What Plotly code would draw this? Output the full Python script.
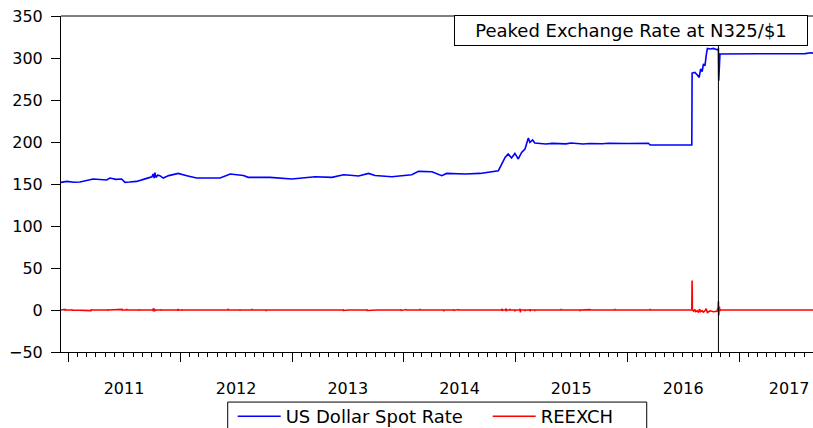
import pandas as pd
import plotly.graph_objects as go

# ---- data ----
usd_dates = [
    "2010-12-08", "2010-12-27", "2011-01-20", "2011-02-08", "2011-03-23", "2011-04-15",
    "2011-05-06", "2011-05-17", "2011-06-05", "2011-06-24", "2011-07-05", "2011-07-20",
    "2011-08-12", "2011-09-14", "2011-10-01", "2011-10-05", "2011-10-08", "2011-10-11",
    "2011-10-14", "2011-10-20", "2011-10-27", "2011-11-07", "2011-11-25", "2011-12-26",
    "2012-01-05", "2012-01-23", "2012-02-24", "2012-03-20", "2012-05-11", "2012-06-13",
    "2012-07-05", "2012-07-26", "2012-08-11", "2012-10-21", "2012-12-31", "2013-03-17",
    "2013-05-11", "2013-06-18", "2013-07-10", "2013-08-06", "2013-09-08", "2013-09-29",
    "2013-11-23", "2013-12-26", "2014-01-27", "2014-02-18", "2014-04-03", "2014-05-05",
    "2014-05-21", "2014-07-20", "2014-09-07", "2014-11-06", "2014-11-17", "2014-11-28",
    "2014-12-08", "2014-12-19", "2014-12-30", "2015-01-10", "2015-01-21", "2015-02-01",
    "2015-02-12", "2015-02-17", "2015-02-26", "2015-03-05", "2015-04-10", "2015-05-01",
    "2015-06-15", "2015-07-01", "2015-08-10", "2015-09-01", "2015-10-12", "2015-11-01",
    "2016-01-01", "2016-03-10", "2016-03-16", "2016-07-30", "2016-07-31", "2016-08-09",
    "2016-08-17", "2016-08-23", "2016-08-28", "2016-09-02", "2016-09-06", "2016-09-11",
    "2016-09-15", "2016-09-19", "2016-09-28", "2016-10-09", "2016-10-20", "2016-10-25",
    "2016-10-26", "2016-10-30", "2017-03-01", "2017-08-04", "2017-08-23", "2017-08-30",
]
usd_values = [
    151.9, 153.1, 152.0, 152.4, 155.9, 154.9,
    154.8, 157.1, 155.5, 156.0, 151.9, 152.3,
    153.1, 156.7, 158.5, 161.9, 157.0, 163.5,
    157.9, 160.5, 159.9, 157.1, 160.0, 162.6,
    161.5, 159.9, 157.1, 157.3, 157.1, 161.9,
    161.0, 160.2, 157.9, 157.9, 155.9, 158.7,
    157.9, 161.0, 160.5, 159.5, 162.6, 160.2,
    158.7, 159.9, 161.0, 165.0, 164.6, 159.9,
    162.6, 161.9, 162.6, 165.8, 173.8, 181.7,
    185.7, 181.0, 186.4, 179.8, 187.6, 191.7,
    204.8, 199.5, 202.4, 198.8, 197.6, 198.4,
    197.8, 198.8, 197.7, 198.2, 197.9, 198.6,
    198.3, 198.5, 196.4, 196.4, 282.1, 282.9,
    279.8, 276.9, 286.9, 283.7, 292.9, 290.8,
    302.7, 311.4, 310.7, 311.4, 309.9, 310.7,
    273.0, 304.8, 305.0, 305.2, 306.3, 305.8,
]

reexch_dates = [
    "2010-12-08", "2010-12-20", "2010-12-21", "2010-12-22", "2010-12-23",
    "2011-01-12", "2011-01-13", "2011-01-14", "2011-01-15",
    "2011-03-15", "2011-03-16", "2011-03-17", "2011-03-18",
    "2011-05-09", "2011-05-10", "2011-05-11", "2011-05-12",
    "2011-06-24", "2011-06-25", "2011-06-26", "2011-06-27",
    "2011-07-10", "2011-07-11", "2011-07-12",
    "2011-08-18", "2011-08-19", "2011-08-20", "2011-08-21",
    "2011-10-04", "2011-10-05", "2011-10-06", "2011-10-07", "2011-10-08",
    "2011-10-09", "2011-10-10", "2011-10-11", "2011-10-12",
    "2011-10-29", "2011-10-30", "2011-10-31", "2011-11-01",
    "2011-12-24", "2011-12-25", "2011-12-26", "2011-12-27",
    "2012-01-06", "2012-01-07", "2012-01-08", "2012-01-09",
    "2012-06-05", "2012-06-06", "2012-06-07",
    "2012-07-14", "2012-07-15", "2012-07-16",
    "2012-08-22", "2012-08-23", "2012-08-24",
    "2012-10-07", "2012-10-08", "2012-10-09",
    "2013-06-16", "2013-06-17", "2013-06-18", "2013-07-03", "2013-07-04",
    "2013-09-02", "2013-09-03", "2013-09-04", "2013-10-06", "2013-10-07",
    "2013-12-22", "2013-12-23", "2013-12-24", "2014-01-08", "2014-01-09",
    "2014-02-22", "2014-02-23", "2014-02-24",
    "2014-05-11", "2014-05-12", "2014-05-13",
    "2014-06-13", "2014-06-14", "2014-06-15", "2014-06-27", "2014-06-28",
    "2014-11-17", "2014-11-18", "2014-11-19", "2014-11-20",
    "2014-11-30", "2014-12-01", "2014-12-02", "2014-12-03",
    "2014-12-13", "2014-12-14", "2014-12-15",
    "2014-12-29", "2014-12-30", "2014-12-31",
    "2015-01-15", "2015-01-16", "2015-01-17", "2015-01-18",
    "2015-01-31", "2015-02-01", "2015-02-02",
    "2015-02-16", "2015-02-17", "2015-02-18", "2015-02-19",
    "2015-03-04", "2015-03-05", "2015-03-06",
    "2015-05-29", "2015-05-30", "2015-05-31",
    "2015-07-30", "2015-07-31", "2015-08-01", "2015-09-02", "2015-09-03",
    "2015-11-21", "2015-11-22", "2015-11-23",
    "2016-03-15", "2016-03-16", "2016-03-17",
    "2016-07-30", "2016-07-31", "2016-08-01", "2016-08-05", "2016-08-09",
    "2016-08-12", "2016-08-17", "2016-08-21", "2016-08-24", "2016-08-28",
    "2016-09-02", "2016-09-06", "2016-09-11", "2016-09-15", "2016-09-19",
    "2016-09-28", "2016-10-09", "2016-10-20", "2016-10-24", "2016-10-25",
    "2016-10-26", "2016-10-28", "2016-10-30", "2016-11-01", "2017-08-30",
]
reexch_values = [
    0.0, 0.0, 0.7, -0.5, 0.0,
    0.0, 0.6, -0.5, 0.0,
    0.0, -0.7, 0.5, 0.0,
    0.0, 0.6, -0.5, 0.0,
    0.0, 0.7, -0.6, 0.0,
    0.0, 0.5, 0.0,
    0.0, -0.6, 0.5, 0.0,
    0.0, 1.4, -1.8, 2.0, -1.6,
    1.5, -1.2, 0.8, 0.0,
    0.0, 0.8, -0.7, 0.0,
    0.0, 1.2, -0.9, 0.0,
    0.0, 0.8, -0.6, 0.0,
    0.0, 0.6, 0.0,
    0.0, -0.7, 0.0,
    0.0, 0.5, 0.0,
    0.0, -0.5, 0.0,
    0.0, 0.7, -0.6, 0.6, 0.0,
    0.0, 0.6, -0.6, -0.7, 0.0,
    0.0, 0.5, -0.5, 0.5, 0.0,
    0.0, 0.5, 0.0,
    0.0, -0.6, 0.0,
    0.0, 0.5, -0.5, 0.5, 0.0,
    0.0, 1.5, -1.2, 0.0,
    0.0, 1.8, -1.5, 0.0,
    0.0, 1.3, 0.0,
    0.0, -1.4, 0.0,
    0.0, 1.4, -3.0, 0.0,
    0.0, -1.2, 0.0,
    0.0, 1.0, -1.4, 0.0,
    0.0, -0.5, 0.0,
    0.0, 0.5, 0.0,
    0.0, -0.5, 0.0, 0.5, 0.0,
    0.0, 0.5, 0.0,
    0.0, 0.5, 0.0,
    0.0, 35.0, 0.3, -1.5, 0.5,
    -2.0, -1.0, -3.0, 1.0, -2.0,
    -1.0, -2.5, -1.0, 1.5, -3.0,
    -1.0, -2.0, -1.5, 3.0, 10.5,
    -6.5, 4.0, -1.0, 0.0, 0.0,
]

year_labels = ["2011", "2012", "2013", "2014", "2015", "2016", "2017"]

peak_date = "2016-10-25"
peak_label = "Peaked Exchange Rate at N325/$1"
x_range = ["2010-12-08", "2017-08-30"]
y_range = [-50, 350]

FONT = "DejaVu Sans"

# year boundaries (major ticks) and mid-year label positions
# (the last label is kept far enough from the right edge to stay readable)
year_starts = [f"{y}-01-01" for y in year_labels]
range_end = pd.Timestamp(x_range[1])
label_pos = []
for y in year_labels:
    a = pd.Timestamp(f"{y}-01-01")
    b = pd.Timestamp(f"{int(y) + 1}-01-01")
    mid = min(a + (b - a) / 2, range_end - pd.Timedelta(days=78))
    label_pos.append(mid.strftime("%Y-%m-%d"))

fig = go.Figure()
fig.add_trace(go.Scatter(x=usd_dates, y=usd_values, mode="lines",
                         name="US Dollar Spot Rate",
                         line=dict(color="#0000ff", width=1.6)))
fig.add_trace(go.Scatter(x=reexch_dates, y=reexch_values, mode="lines",
                         name="REEXCH",
                         line=dict(color="#ff0000", width=1.6)))
# invisible trace that carries the year-label axis
fig.add_trace(go.Scatter(x=x_range, y=[None, None], xaxis="x2", showlegend=False,
                         hoverinfo="skip"))

fig.add_shape(type="line", xref="x", yref="paper", x0=peak_date, x1=peak_date,
              y0=0, y1=1, line=dict(color="black", width=1))
fig.add_shape(type="line", xref="paper", yref="paper", x0=0, x1=1, y0=1, y1=1,
              line=dict(color="black", width=1))
# legend frame
fig.add_shape(type="rect", xref="paper", yref="paper", x0=0.2217, x1=0.7789,
              y0=-0.149, y1=-0.30, line=dict(color="black", width=1),
              fillcolor="rgba(0,0,0,0)")

fig.add_annotation(text=peak_label, xref="paper", yref="paper", x=0.758, y=1,
                   xanchor="center", yanchor="top", yshift=1, showarrow=False,
                   width=352, height=29, borderpad=0,
                   bgcolor="white", bordercolor="black", borderwidth=1,
                   font=dict(family=FONT, size=18, color="black"))

fig.update_layout(
    width=813, height=428,
    margin=dict(l=61, r=0, t=16, b=76, autoexpand=False),
    paper_bgcolor="white", plot_bgcolor="white",
    font=dict(family=FONT, size=16, color="black"),
    showlegend=True,
    legend=dict(orientation="h", x=0.2283, xanchor="left", y=-0.137, yanchor="top",
                borderwidth=0, bgcolor="rgba(0,0,0,0)",
                itemwidth=43, entrywidth=197, entrywidthmode="pixels",
                font=dict(family=FONT, size=18, color="black")),
    xaxis=dict(type="date", range=x_range, showgrid=False, zeroline=False,
               showline=True, linecolor="black", linewidth=1,
               ticks="outside", ticklen=9, tickcolor="black",
               tickvals=year_starts, showticklabels=False,
               minor=dict(dtick="M1", tick0="2011-01-01", ticks="outside", ticklen=4,
                          tickcolor="black", showgrid=False)),
    xaxis2=dict(type="date", range=x_range, overlaying="x", side="bottom",
                showgrid=False, zeroline=False, showline=False, ticks="",
                tickvals=label_pos, ticktext=year_labels, ticklabelstandoff=25,
                ticklabeloverflow="allow",
                tickfont=dict(family=FONT, size=16, color="black")),
    yaxis=dict(range=y_range, dtick=50, showgrid=False, zeroline=False,
               showline=True, linecolor="black", linewidth=1,
               ticks="outside", ticklen=9, tickcolor="black",
               ticklabelstandoff=5, ticklabeloverflow="allow",
               tickfont=dict(family=FONT, size=16, color="black")),
)

fig.write_html("out.html", config={"displayModeBar": False},
               post_script="document.body.style.margin='0px';")
